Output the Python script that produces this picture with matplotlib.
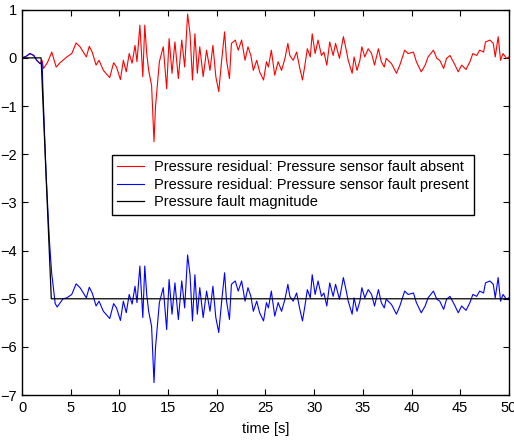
"""Pressure residuals with and without a pressure sensor fault."""
import matplotlib
matplotlib.use("Agg")
import matplotlib.pyplot as plt

plt.rcParams["font.family"] = ["Liberation Sans", "DejaVu Sans"]

# ── Data ──────────────────────────────────────────────────────────────────────
t_absent = [
    0, 0.4, 0.8, 1.2, 1.5, 1.85, 2.05, 2.2, 2.6, 3.05, 3.5, 3.9, 4.6, 5.1,
    5.55, 5.95, 6.6, 6.9, 7.2, 7.6, 7.9, 8.35, 9.0, 9.4, 9.7, 10.1, 10.4,
    10.7, 11.0, 11.3, 11.6, 11.8, 12.1, 12.4, 12.6, 12.8, 13.0, 13.3, 13.55,
    13.7, 14.1, 14.5, 14.85, 15.1, 15.4, 15.7, 16.05, 16.4, 16.7, 17.0, 17.25,
    17.5, 17.75, 18.0, 18.25, 18.6, 18.95, 19.3, 19.6, 19.9, 20.2, 20.5, 20.8,
    21.0, 21.3, 21.5, 21.9, 22.2, 22.55, 22.9, 23.2, 23.5, 23.75, 24.1, 24.4,
    24.8, 25.1, 25.3, 25.6, 25.95, 26.3, 26.65, 27.0, 27.3, 27.5, 27.85, 28.2,
    28.5, 28.8, 29.05, 29.3, 29.6, 29.8, 30.1, 30.4, 30.75, 31.0, 31.3, 31.6,
    31.95, 32.2, 32.6, 33.0, 33.3, 33.5, 33.9, 34.1, 34.4, 34.7, 34.9, 35.2,
    35.55, 35.9, 36.2, 36.6, 36.9, 37.2, 37.4, 37.95, 38.45, 38.8, 39.3,
    39.65, 40.2, 40.5, 41.0, 41.4, 41.7, 42.25, 42.6, 42.9, 43.3, 43.6, 43.95,
    44.4, 44.8, 45.15, 45.6, 46.0, 46.3, 46.7, 47.0, 47.4, 47.6, 48.05, 48.4,
    48.6, 48.9, 49.15, 49.4, 49.75, 50.0,
]
r_absent = [
    0.0, 0.03, 0.09, 0.05, -0.05, -0.12, -0.05, -0.22, -0.1, 0.12, -0.19,
    -0.1, 0.02, 0.09, 0.31, 0.23, 0.02, 0.24, 0.12, -0.15, -0.05, -0.26,
    -0.41, -0.1, -0.19, -0.45, -0.05, -0.29, 0.09, -0.11, 0.26, -0.08, 0.68,
    -0.39, 0.68, 0.09, -0.26, -0.57, -1.74, -1.02, -0.08, 0.23, -0.64, 0.4,
    -0.32, 0.33, -0.43, 0.37, -0.19, 0.91, 0.5, -0.46, 0.5, -0.32, 0.23,
    -0.39, 0.16, -0.26, 0.26, -0.39, -0.7, -0.05, 0.54, -0.05, -0.43, 0.30,
    0.37, 0.16, 0.37, -0.05, 0.23, 0.05, -0.26, -0.05, -0.29, -0.46, -0.08,
    -0.19, 0.16, -0.36, -0.08, -0.26, -0.01, 0.30, 0.05, -0.05, 0.12, -0.19,
    -0.46, -0.15, 0.19, 0.02, 0.5, 0.09, 0.37, 0.05, 0.12, -0.15, 0.33, 0.05,
    0.30, -0.01, 0.44, 0.16, -0.05, -0.32, 0.02, -0.26, -0.05, 0.23, 0.02,
    0.19, 0.09, -0.15, 0.19, -0.08, -0.19, -0.01, -0.12, -0.32, -0.15, 0.16,
    0.09, 0.12, -0.08, -0.29, -0.15, 0.02, 0.16, -0.01, -0.05, -0.22, -0.01,
    0.05, -0.12, -0.29, -0.15, -0.24, -0.08, 0.09, 0.05, 0.16, 0.12, 0.33,
    0.37, 0.30, 0.02, 0.44, -0.05, 0.09, -0.01, 0.02,
]

t_present = [
    0, 0.4, 0.8, 1.2, 1.5, 1.85, 2.05, 2.2, 2.46, 2.8, 3.04, 3.4, 3.6, 4.2,
    4.6, 5.1, 5.55, 5.95, 6.6, 6.9, 7.2, 7.6, 7.9, 8.35, 9.0, 9.4, 9.7, 10.1,
    10.4, 10.7, 11.0, 11.3, 11.6, 11.8, 12.1, 12.4, 12.6, 12.8, 13.0, 13.3,
    13.55, 13.7, 14.1, 14.5, 14.85, 15.1, 15.4, 15.7, 16.05, 16.4, 16.7, 17.0,
    17.25, 17.5, 17.75, 18.0, 18.25, 18.6, 18.95, 19.3, 19.6, 19.9, 20.2,
    20.5, 20.8, 21.0, 21.3, 21.5, 21.9, 22.2, 22.55, 22.9, 23.2, 23.5, 23.75,
    24.1, 24.4, 24.8, 25.1, 25.3, 25.6, 25.95, 26.3, 26.65, 27.0, 27.3, 27.5,
    27.85, 28.2, 28.5, 28.8, 29.05, 29.3, 29.6, 29.8, 30.1, 30.4, 30.75,
    31.0, 31.3, 31.6, 31.95, 32.2, 32.6, 33.0, 33.3, 33.5, 33.9, 34.1, 34.4,
    34.7, 34.9, 35.2, 35.55, 35.9, 36.2, 36.6, 36.9, 37.2, 37.4, 37.95,
    38.45, 38.8, 39.3, 39.65, 40.2, 40.5, 41.0, 41.4, 41.7, 42.25, 42.6,
    42.9, 43.3, 43.6, 43.95, 44.4, 44.8, 45.15, 45.6, 46.0, 46.3, 46.7, 47.0,
    47.4, 47.6, 48.05, 48.4, 48.6, 48.9, 49.15, 49.4, 49.75, 50.0,
]
r_present = [
    0.0, 0.03, 0.09, 0.05, -0.05, -0.12, -0.1, -1.0, -2.4, -3.78, -4.47,
    -5.1, -5.17, -5.0, -4.98, -4.91, -4.69, -4.77, -4.98, -4.76, -4.88,
    -5.15, -5.05, -5.26, -5.41, -5.1, -5.19, -5.45, -5.05, -5.29, -4.91,
    -5.11, -4.74, -5.08, -4.32, -5.39, -4.32, -4.91, -5.26, -5.57, -6.74,
    -6.02, -5.08, -4.77, -5.64, -4.6, -5.32, -4.67, -5.43, -4.63, -5.19,
    -4.09, -4.5, -5.46, -4.5, -5.32, -4.77, -5.39, -4.84, -5.26, -4.74,
    -5.39, -5.7, -5.05, -4.46, -5.05, -5.43, -4.7, -4.63, -4.84, -4.63,
    -5.05, -4.77, -4.95, -5.26, -5.05, -5.29, -5.46, -5.08, -5.19, -4.84,
    -5.36, -5.08, -5.26, -5.01, -4.7, -4.95, -5.05, -4.88, -5.19, -5.46,
    -5.15, -4.81, -4.98, -4.5, -4.91, -4.63, -4.95, -4.88, -5.15, -4.67,
    -4.95, -4.7, -5.01, -4.56, -4.84, -5.05, -5.32, -4.98, -5.26, -5.05,
    -4.77, -4.98, -4.81, -4.91, -5.15, -4.81, -5.08, -5.19, -5.01, -5.12,
    -5.32, -5.15, -4.84, -4.91, -4.88, -5.08, -5.29, -5.15, -4.98, -4.84,
    -5.01, -5.05, -5.22, -5.01, -4.95, -5.12, -5.29, -5.15, -5.24, -5.08,
    -4.91, -4.95, -4.84, -4.88, -4.67, -4.63, -4.7, -4.98, -4.56, -5.05,
    -4.91, -5.01, -4.98,
]

t_fault = [0, 1.95, 3.0, 50]
fault = [0, 0, -5, -5]

labels = [
    "Pressure residual: Pressure sensor fault absent",
    "Pressure residual: Pressure sensor fault present",
    "Pressure fault magnitude",
]

# ── Figure ────────────────────────────────────────────────────────────────────
fig = plt.figure(figsize=(5.14, 4.41), dpi=100, facecolor="white")
ax = fig.add_axes([0.043, 0.104, 0.947, 0.874])

ax.plot(t_absent, r_absent, color="#FF0000", lw=0.8, label=labels[0])
ax.plot(t_present, r_present, color="#0000FF", lw=0.8, label=labels[1])
ax.plot(t_fault, fault, color="black", lw=0.9, label=labels[2])

ax.set_xlim(0, 50)
ax.set_ylim(-7, 1)
ax.set_xticks(range(0, 51, 5))
ax.set_yticks(range(-7, 2))
ax.tick_params(direction="in", top=True, right=True, length=4,
               width=0.8, labelsize=10.5, pad=4)
for sp in ax.spines.values():
    sp.set_linewidth(1.0)

ax.set_xlabel("time [s]", fontsize=10.5, labelpad=5)

leg = ax.legend(loc="upper left", bbox_to_anchor=(0.185, 0.623),
                fontsize=10.5, frameon=True, fancybox=False, framealpha=1,
                edgecolor="black", handlelength=1.8, handletextpad=0.7,
                labelspacing=0.25, borderpad=0.35, borderaxespad=0)
leg.get_frame().set_linewidth(1.0)

fig.savefig("out.png", dpi=100, facecolor="white")
plt.close(fig)
